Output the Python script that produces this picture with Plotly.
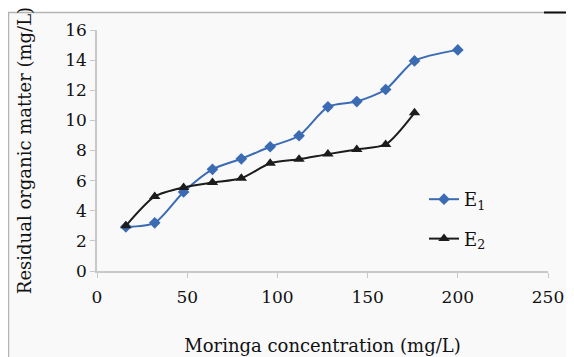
import plotly.graph_objects as go

x_e1 = [16, 32, 48, 64, 80, 96, 112, 128, 144, 160, 176, 200]
y_e1 = [2.93, 3.2, 5.25, 6.75, 7.45, 8.25, 8.98, 10.9, 11.25, 12.05, 13.95, 14.68]
x_e2 = [16, 32, 48, 64, 80, 96, 112, 128, 144, 160, 176]
y_e2 = [3.0, 4.95, 5.55, 5.87, 6.16, 7.15, 7.42, 7.76, 8.07, 8.4, 10.5]

x_ticks = [0, 50, 100, 150, 200, 250]
y_ticks = [0, 2, 4, 6, 8, 10, 12, 14, 16]

FONT = "DejaVu Serif"

fig = go.Figure()
fig.add_trace(go.Scatter(
    x=x_e1, y=y_e1, mode="lines+markers", name="E<sub>1</sub>",
    line=dict(color="#3a6bb3", width=2, shape="spline", smoothing=0.7),
    marker=dict(symbol="diamond", size=9, color="#3a6bb3"),
    legendgroup="a"))
fig.add_trace(go.Scatter(
    x=x_e2, y=y_e2, mode="lines+markers", name="E<sub>2</sub>",
    line=dict(color="#1c1c1c", width=2, shape="spline", smoothing=0.7),
    marker=dict(symbol="triangle-up", size=10, color="#1c1c1c"),
    legendgroup="b"))

# page has an 8px body margin; work in screen pixels and convert
OFF = 8
W, H = 566, 349
L, R, T = 97 - OFF, 574 - 548, 30 - OFF
B = H - (271 - OFF)
pw = W - L - R
ph = H - T - B

def px2x(px):
    return (px - OFF - L) / pw

def py2y(py):
    return (H - B - (py - OFF)) / ph

fig.update_layout(
    width=W, height=H,
    margin=dict(l=L, r=R, t=T, b=B, autoexpand=False),
    paper_bgcolor="white",
    plot_bgcolor="rgba(0,0,0,0)",
    font=dict(family=FONT, color="#111111", size=16),
    showlegend=True,
    legend=dict(x=px2x(424), y=py2y(181), xanchor="left", yanchor="top",
                bgcolor="rgba(0,0,0,0)", font=dict(size=18, family=FONT),
                tracegroupgap=13, traceorder="grouped"),
    xaxis=dict(range=[0, 250], tickvals=x_ticks, showgrid=False, zeroline=False,
               automargin=False,
               showline=True, linecolor="#c8c8c8", linewidth=1.5,
               ticks="outside", ticklen=5, tickcolor="#c8c8c8",
               tickfont=dict(size=17, family=FONT), ticklabelstandoff=5,
               title=dict(text="Moringa concentration (mg/L)", font=dict(size=18, family=FONT), standoff=33)),
    yaxis=dict(range=[0, 16], tickvals=y_ticks, showgrid=False, zeroline=False,
               automargin=False,
               showline=True, linecolor="#c8c8c8", linewidth=1.5,
               ticks="outside", ticklen=5, tickcolor="#c8c8c8",
               tickfont=dict(size=17, family=FONT), ticklabelstandoff=0,
               title=dict(text="Residual organic matter (mg/L)", font=dict(size=18, family=FONT), standoff=29)),
    shapes=[
        dict(type="rect", xref="paper", yref="paper", layer="below",
             x0=px2x(8.5), x1=px2x(600), y0=py2y(400), y1=py2y(12.5),
             fillcolor="#f9f9fa", line=dict(color="#b4b4b4", width=1.5)),
        dict(type="line", xref="paper", yref="paper", layer="above",
             x0=px2x(544), x1=px2x(576), y0=py2y(12.5), y1=py2y(12.5),
             line=dict(color="#111111", width=2)),
    ],
)

fig.write_html("out.html")
